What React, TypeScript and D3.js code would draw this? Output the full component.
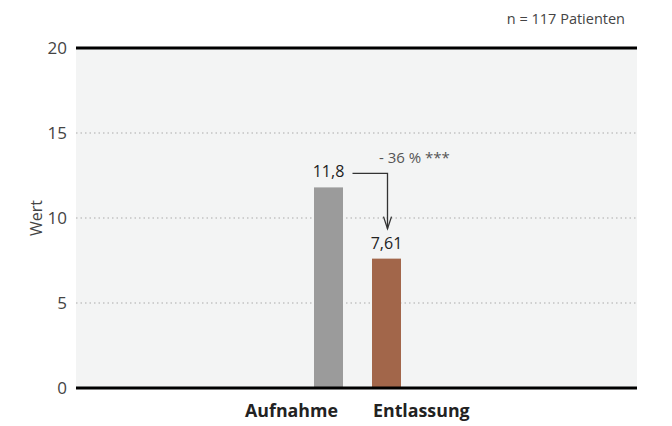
import React from "react";
import * as d3 from "d3";

const categories = ["Aufnahme", "Entlassung"];
const values = [11.8, 7.61];
const valueLabels = ["11,8", "7,61"];
const colors = ["#9b9b9b", "#a2664a"];
const yTicks = [0, 5, 10, 15, 20];
const changeLabel = "- 36 % ***";
const noteLabel = "n = 117 Patienten";
const yTitle = "Wert";

export default function App() {
  const W = 672, H = 426;
  const left = 76, right = 637, top = 48, bottom = 388;
  const y = d3.scaleLinear().domain([0, 20]).range([bottom, top]);
  const cx = (left + right) / 2;
  const x = d3.scaleBand<string>().domain(categories).range([cx - 57, cx + 59]).paddingInner(0.5).paddingOuter(0.25);
  const font = "'Open Sans', sans-serif";
  const bw = x.bandwidth();
  const x0 = x(categories[0])! + bw / 2;
  const x1 = x(categories[1])! + bw / 2;
  const yA = y(values[0]) - 14;
  const arrowX = x1 + 1;
  const arrowEnd = y(values[1]) - 30;
  return (
    <svg width={W} height={H} style={{ position: "absolute", left: 0, top: 0 }} fontFamily={font}>
      <rect x={0} y={0} width={W} height={H} fill="#ffffff" />
      <rect x={left} y={top} width={right - left} height={bottom - top} fill="#f3f4f4" />
      {yTicks.filter(t => t > 0 && t < 20).map(t => (
        <line key={t} x1={left} x2={right} y1={y(t)} y2={y(t)} stroke="#aaaaaa" strokeWidth={1} strokeDasharray="1.5,3" />
      ))}
      {categories.map((c, i) => (
        <rect key={c} x={x(c)} y={y(values[i])} width={bw} height={bottom - y(values[i])} fill={colors[i]} />
      ))}
      <line x1={left} x2={right} y1={top} y2={top} stroke="#000" strokeWidth={3} />
      <line x1={left} x2={right} y1={bottom} y2={bottom} stroke="#000" strokeWidth={3} />
      {yTicks.map(t => (
        <text key={t} x={67} y={y(t)} dy="0.35em" textAnchor="end" fontSize={17} fill="#444">{t}</text>
      ))}
      <text transform={`translate(42,${(top + bottom) / 2}) rotate(-90)`} textAnchor="middle" fontSize={16} fill="#444">{yTitle}</text>
      {categories.map((c, i) => (
        <text key={c}
          x={i === 0 ? x(c)! + bw - 5 : x(c)! + 1}
          y={417}
          textAnchor={i === 0 ? "end" : "start"}
          fontSize={17.8} fontWeight="bold" fill="#222">{c}</text>
      ))}
      {categories.map((c, i) => (
        <text key={c} x={x(c)! + bw / 2} y={y(values[i]) - 10} textAnchor="middle" fontSize={16} fill="#222">{valueLabels[i]}</text>
      ))}
      <path d={`M${x0 + 24},${yA} H${arrowX} V${arrowEnd}`} fill="none" stroke="#333" strokeWidth={1.3} />
      <path d={`M${arrowX - 4},${arrowEnd - 12} L${arrowX},${arrowEnd} L${arrowX + 4},${arrowEnd - 12}`} fill="none" stroke="#333" strokeWidth={1.3} />
      <text x={379} y={yA - 10} fontSize={15} fill="#555">{changeLabel}</text>
      <text x={625} y={24} textAnchor="end" fontSize={14.5} fill="#444">{noteLabel}</text>
    </svg>
  );
}
